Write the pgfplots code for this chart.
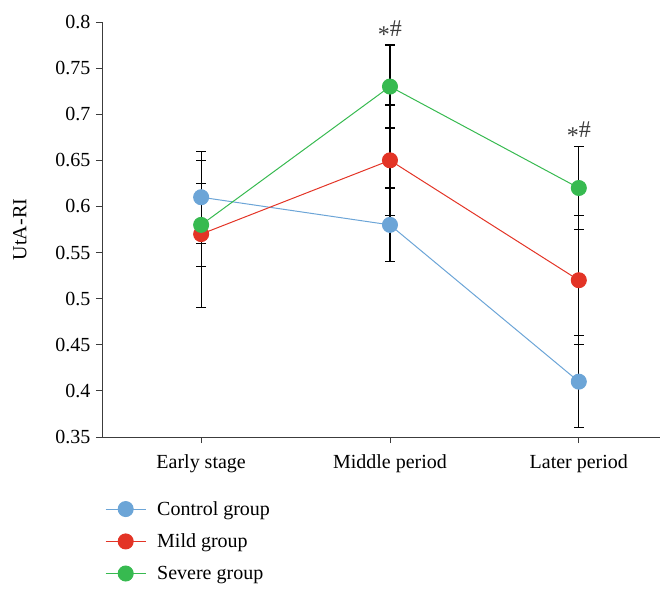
\documentclass[border=0pt]{standalone}
\usepackage{pgfplots}
\pgfplotsset{compat=1.18}
\usepackage{fontspec}
\setmainfont{Liberation Serif}
\definecolor{cblue}{RGB}{108,165,215}
\definecolor{cred}{RGB}{227,52,38}
\definecolor{cgreen}{RGB}{55,186,80}
\definecolor{axgray}{RGB}{60,60,60}
\pgfplotstableread{
x y e
0 0.61 0.05
1 0.58 0.04
2 0.41 0.05
}\control
\pgfplotstableread{
x y e
0 0.57 0.08
1 0.65 0.06
2 0.52 0.07
}\mild
\pgfplotstableread{
x y e
0 0.58 0.045
1 0.73 0.045
2 0.62 0.045
}\severe
\begin{document}
\begin{tikzpicture}
\useasboundingbox (-102pt,-151pt) rectangle (558pt,437pt);
\begin{axis}[
 scale only axis, width=558pt, height=415pt,
 xmin=-0.525, xmax=2.43, ymin=0.35, ymax=0.8,
 clip=false,
 axis x line=bottom, axis y line=left,
 axis line style={-, axgray, line width=0.9pt},
 xtick={0,1,2}, xticklabels={Early stage, Middle period, Later period},
 ytick={0.35,0.4,0.45,0.5,0.55,0.6,0.65,0.7,0.75,0.8},
 /pgf/number format/assume math mode=true,
 tick style={axgray, line width=0.9pt}, major tick length=6pt, tick align=outside,
 font=\fontsize{20}{23}\selectfont,
 xticklabel style={yshift=-8pt},
 yticklabel style={xshift=-2pt},
 ylabel={UtA-RI},
 y label style={at={(axis description cs:-0.147,0.5)}, anchor=center},
 legend style={at={(0,-0.145)}, anchor=north west, draw=none, fill=none, row sep=13pt,
   font=\fontsize{20}{23}\selectfont, cells={anchor=west}},
 legend image code/.code={\draw[mark repeat=2,mark phase=2] plot coordinates {(0pt,0pt) (20pt,0pt) (40pt,0pt)};\path (49pt,0pt);},
 every axis plot/.append style={line width=1pt},
]
\addplot[cblue, mark=*, mark size=7.5pt, mark options={draw=cblue, fill=cblue},
  error bars/.cd, y dir=both, y explicit,
  error bar style={black, line width=1.2pt},
  error mark options={rotate=90, black, line width=1.2pt, mark size=5pt}]
  table[x=x, y=y, y error=e] {\control};
\addlegendentry{Control group}
\addplot[cred, mark=*, mark size=7.5pt, mark options={draw=cred, fill=cred},
  error bars/.cd, y dir=both, y explicit,
  error bar style={black, line width=1.2pt},
  error mark options={rotate=90, black, line width=1.2pt, mark size=5pt}]
  table[x=x, y=y, y error=e] {\mild};
\addlegendentry{Mild group}
\addplot[cgreen, mark=*, mark size=7.5pt, mark options={draw=cgreen, fill=cgreen},
  error bars/.cd, y dir=both, y explicit,
  error bar style={black, line width=1.2pt},
  error mark options={rotate=90, black, line width=1.2pt, mark size=5pt}]
  table[x=x, y=y, y error=e] {\severe};
\addlegendentry{Severe group}
\node[anchor=south, inner sep=1pt, font=\fontsize{24}{26}\selectfont, text=axgray] at (axis cs:1,0.777) {\raisebox{-6pt}{*}\#};
\node[anchor=south, inner sep=1pt, font=\fontsize{24}{26}\selectfont, text=axgray] at (axis cs:2,0.667) {\raisebox{-6pt}{*}\#};
\end{axis}
\end{tikzpicture}
\end{document}
